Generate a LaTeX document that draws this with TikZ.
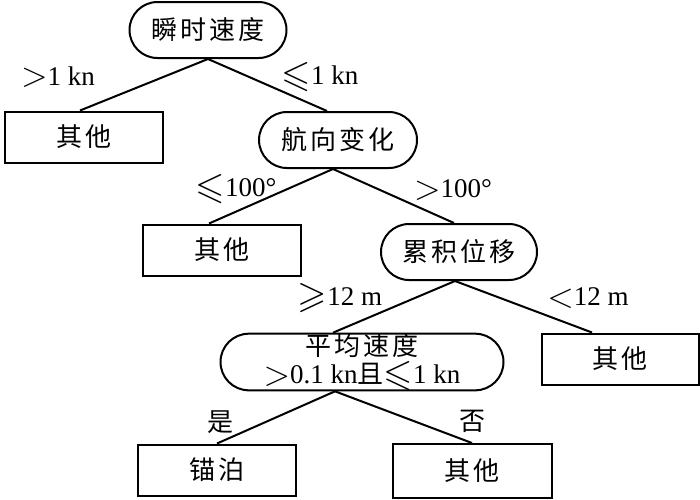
\documentclass[tikz,border=0pt]{standalone}
\usepackage{fontspec}
\usepackage{amssymb}
\usepackage{graphicx}
\DeclareFontFamily{U}{msa}{}
\DeclareFontShape{U}{msa}{m}{n}{<-> msam10}{}
\setmainfont{Liberation Serif}
\newfontfamily\cjk[LetterSpace=12]{Noto Sans CJK SC}
\newcommand\zh{\cjk\fontsize{26}{26}\selectfont}
\newcommand\bsym[1]{\raisebox{-1.5pt}{\scalebox{1.4}{$#1$}}}
\usetikzlibrary{shapes.misc}
\tikzset{
  every node/.style={font=\fontsize{27}{28}\selectfont},
  leaf/.style={draw, line width=2pt, minimum width=158pt, minimum height=51pt, inner sep=0pt},
  test/.style={draw, rounded rectangle, line width=2pt, minimum height=56pt, inner sep=0pt},
  edge/.style={line width=2pt},
}
\begin{document}
\begin{tikzpicture}[x=1pt,y=-1pt]
        \useasboundingbox (0,0) rectangle (700,499);
        % tests and leaves
        \node[test, minimum width=157pt] (sudu) at (208,30) {\zh 瞬时速度};
        \node[leaf] (qt1) at (84,137) {\zh 其他};
        \node[test, minimum width=158pt] (hangx) at (338,140) {\zh 航向变化};
        \node[leaf] (qt2) at (222,250) {\zh 其他};
        \node[test, minimum width=156pt] (weiyi) at (459,252) {\zh 累积位移};
        \node[test, minimum width=283pt, align=center] (pjsd) at (362,362) {{\zh 平均速度}\\\bsym{>}0.1 kn{\zh 且}\bsym{\leqslant}1 kn};
        \node[leaf, minimum width=157pt] (qt3) at (620,359) {\zh 其他};
        \node[leaf] (maob) at (217,470) {\zh 锚泊};
        \node[leaf, minimum width=159pt, minimum height=54pt] (qt4) at (472,471) {\zh 其他};
        % conditions
        \node[] (c1) at (58,77) {\bsym{>}1 kn};
        \node[] (c2) at (320,77) {\bsym{\leqslant}1 kn};
        \node[] (c3) at (236,189) {\bsym{\leqslant}100°};
        \node[] (c4) at (453,190) {\bsym{>}100°};
        \node[] (c5) at (340,298) {\bsym{\geqslant}12 m};
        \node[] (c6) at (588,298) {\bsym{<}12 m};
        \node[] (c7) at (220,422) {\zh 是};
        \node[] (c8) at (472,421) {\zh 否};
        \draw[edge] (sudu.south) -- ([xshift=-4pt]qt1.north);
        \draw[edge] (sudu.south) -- ([xshift=-11pt]hangx.north);
        \draw[edge] ([xshift=-5pt]hangx.south) -- ([xshift=-13pt]qt2.north);
        \draw[edge] ([xshift=-5pt]hangx.south) -- ([xshift=-5pt]weiyi.north);
        \draw[edge] ([xshift=-4pt]weiyi.south) -- ([xshift=-29pt]pjsd.north);
        \draw[edge] ([xshift=-4pt]weiyi.south) -- ([xshift=-28pt]qt3.north);
        \draw[edge] ([xshift=-27pt]pjsd.south) -- (maob.north);
        \draw[edge] ([xshift=-27pt]pjsd.south) -- (qt4.north);
      \end{tikzpicture}
\end{document}
